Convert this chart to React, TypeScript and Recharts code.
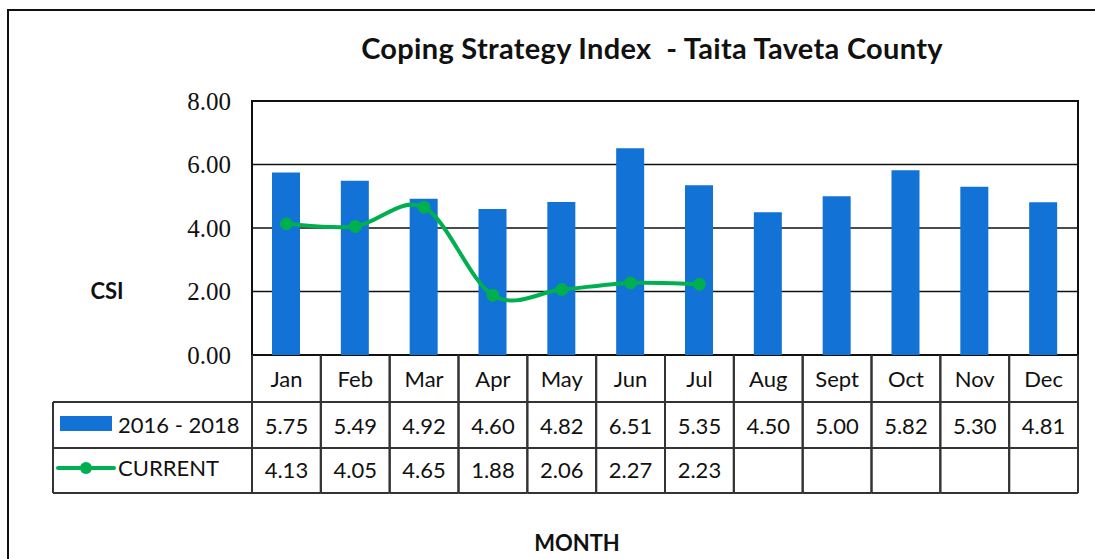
import React from "react";
import { ComposedChart, Bar, Line, XAxis, YAxis, CartesianGrid, ReferenceArea } from "recharts";

const months = ["Jan", "Feb", "Mar", "Apr", "May", "Jun", "Jul", "Aug", "Sept", "Oct", "Nov", "Dec"];
const baseline = [5.75, 5.49, 4.92, 4.6, 4.82, 6.51, 5.35, 4.5, 5.0, 5.82, 5.3, 4.81];
const current = [4.13, 4.05, 4.65, 1.88, 2.06, 2.27, 2.23, null, null, null, null, null];
const yTicks = [0, 2, 4, 6, 8];

const data = months.map((m, i) => ({ month: m, baseline: baseline[i], current: current[i] }));

const W = 1095;
const H = 559;
const PLOT_L = 252;
const PLOT_R = 1078;
const PLOT_T = 101;
const PLOT_B = 355;
const CELL_W = (PLOT_R - PLOT_L) / months.length;
const ROW1 = 402;
const ROW2 = 448;
const ROW3 = 493;
const LEG_L = 53;

const BLUE = "#1272D6";
const GREEN = "#00B050";
const LINE_C = "#333";
const FONT = "Lato, 'Open Sans', sans-serif";

// Excel-like smoothed line (Catmull-Rom through points)
function smoothCurve(context: any) {
  let pts: number[][] = [];
  return {
    areaStart() {},
    areaEnd() {},
    lineStart() {
      pts = [];
    },
    point(x: number, y: number) {
      pts.push([+x, +y]);
    },
    lineEnd() {
      const n = pts.length;
      if (!n) return;
      context.moveTo(pts[0][0], pts[0][1]);
      for (let i = 0; i < n - 1; i++) {
        const p0 = pts[Math.max(i - 1, 0)];
        const p1 = pts[i];
        const p2 = pts[i + 1];
        const p3 = pts[Math.min(i + 2, n - 1)];
        context.bezierCurveTo(
          p1[0] + (p2[0] - p0[0]) / 6,
          p1[1] + (p2[1] - p0[1]) / 6,
          p2[0] - (p3[0] - p1[0]) / 6,
          p2[1] - (p3[1] - p1[1]) / 6,
          p2[0],
          p2[1]
        );
      }
    },
  };
}

function TableTick(props: any) {
  const { x, payload } = props;
  const i = months.indexOf(payload.value);
  const left = x - CELL_W / 2;
  const txt = { fontFamily: FONT, fontSize: 22, fill: "#111", textAnchor: "middle" as const, dominantBaseline: "central" as const };
  return (
    <g>
      <line x1={left} x2={left} y1={PLOT_B} y2={ROW3} stroke={LINE_C} strokeWidth={2} />
      <line x1={left + CELL_W} x2={left + CELL_W} y1={PLOT_B} y2={ROW3} stroke={LINE_C} strokeWidth={2} />
      <line x1={left} x2={left + CELL_W} y1={ROW1} y2={ROW1} stroke={LINE_C} strokeWidth={2} />
      <line x1={left} x2={left + CELL_W} y1={ROW2} y2={ROW2} stroke={LINE_C} strokeWidth={2} />
      <line x1={left} x2={left + CELL_W} y1={ROW3} y2={ROW3} stroke={LINE_C} strokeWidth={2} />
      <text x={x} y={(PLOT_B + ROW1) / 2} {...txt}>{payload.value}</text>
      <text x={x} y={(ROW1 + ROW2) / 2} {...txt}>{baseline[i].toFixed(2)}</text>
      {current[i] != null && (
        <text x={x} y={(ROW2 + ROW3) / 2 - 1} {...txt}>{(current[i] as number).toFixed(2)}</text>
      )}
      {i === 0 && (
        <g>
          <line x1={LEG_L} x2={LEG_L} y1={ROW1} y2={ROW3} stroke={LINE_C} strokeWidth={2} />
          <line x1={LEG_L} x2={left} y1={ROW1} y2={ROW1} stroke={LINE_C} strokeWidth={2} />
          <line x1={LEG_L} x2={left} y1={ROW2} y2={ROW2} stroke={LINE_C} strokeWidth={2} />
          <line x1={LEG_L} x2={left} y1={ROW3} y2={ROW3} stroke={LINE_C} strokeWidth={2} />
          <rect x={60} y={416} width={52} height={15} fill={BLUE} />
          <text x={118} y={(ROW1 + ROW2) / 2 - 1} {...txt} textAnchor="start">2016 - 2018</text>
          <line x1={58} x2={114} y1={468} y2={468} stroke={GREEN} strokeWidth={4} strokeLinecap="round" />
          <circle cx={86} cy={468} r={6} fill={GREEN} />
          <text x={118} y={(ROW2 + ROW3) / 2 - 3} {...txt} textAnchor="start">CURRENT</text>
        </g>
      )}
    </g>
  );
}

export default function App() {
  return (
    <div style={{ position: "absolute", left: 0, top: 0, width: W, height: H, overflow: "hidden", background: "#fff" }}>
      <div
        style={{
          position: "absolute",
          left: 7,
          top: 9,
          width: W + 20,
          height: H + 20,
          borderLeft: "2px solid #111",
          borderTop: "2px solid #111",
        }}
      />
      <div
        style={{
          position: "absolute",
          left: 0,
          width: 1304,
          top: 30,
          textAlign: "center",
          fontFamily: FONT,
          fontWeight: 700,
          fontSize: 29,
          letterSpacing: 0.3,
          whiteSpace: "pre",
          color: "#111",
        }}
      >
        {"Coping Strategy Index  - Taita Taveta County"}
      </div>
      <div style={{ position: "absolute", left: 57, width: 100, top: 277, textAlign: "center", fontFamily: FONT, fontWeight: 700, fontSize: 22, color: "#111" }}>
        CSI
      </div>
      <div style={{ position: "absolute", left: 477, width: 200, top: 529, textAlign: "center", fontFamily: FONT, fontWeight: 700, fontSize: 22, color: "#111" }}>
        MONTH
      </div>
      <div style={{ position: "absolute", left: 0, top: 0 }}>
        <ComposedChart
          width={W}
          height={H}
          data={data}
          margin={{ top: PLOT_T, right: W - PLOT_R, left: PLOT_L - 80, bottom: 0 }}
          barCategoryGap={0}
        >
          <CartesianGrid vertical={false} stroke="#111" strokeWidth={1.5} />
          <XAxis
            dataKey="month"
            axisLine={false}
            tickLine={false}
            interval={0}
            height={H - PLOT_B}
            tick={(p: any) => <TableTick {...p} />}
          />
          <YAxis
            width={80}
            domain={[0, 8]}
            ticks={yTicks}
            axisLine={false}
            tickLine={false}
            tickMargin={15}
            tickFormatter={(v: number) => v.toFixed(2)}
            tick={{ fontFamily: "'Liberation Serif', 'Times New Roman', serif", fontSize: 25, fill: "#111" }}
          />
          <Bar dataKey="baseline" fill={BLUE} barSize={28} isAnimationActive={false} />
          <ReferenceArea y1={0} y2={8} fill="none" stroke="#111" strokeWidth={2} ifOverflow="visible" />
          <Line
            dataKey="current"
            type={smoothCurve as any}
            stroke={GREEN}
            strokeWidth={4}
            dot={{ r: 6, fill: GREEN, stroke: GREEN, strokeWidth: 1 }}
            connectNulls={false}
            isAnimationActive={false}
          />
        </ComposedChart>
      </div>
    </div>
  );
}
